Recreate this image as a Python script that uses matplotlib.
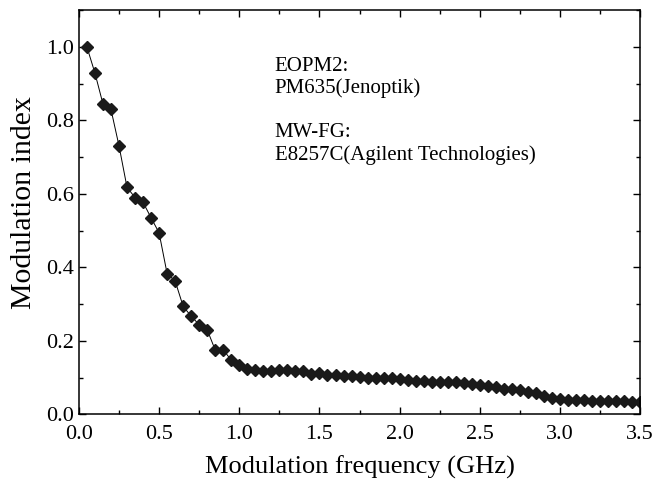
import matplotlib
matplotlib.use('Agg')
import matplotlib.pyplot as plt
from matplotlib.ticker import MultipleLocator

# modulation frequency (GHz)
freq = [0.05, 0.10, 0.15, 0.20, 0.25, 0.30, 0.35, 0.40, 0.45, 0.50,
        0.55, 0.60, 0.65, 0.70, 0.75, 0.80, 0.85, 0.90, 0.95, 1.00,
        1.05, 1.10, 1.15, 1.20, 1.25, 1.30, 1.35, 1.40, 1.45, 1.50,
        1.55, 1.60, 1.65, 1.70, 1.75, 1.80, 1.85, 1.90, 1.95, 2.00,
        2.05, 2.10, 2.15, 2.20, 2.25, 2.30, 2.35, 2.40, 2.45, 2.50,
        2.55, 2.60, 2.65, 2.70, 2.75, 2.80, 2.85, 2.90, 2.95, 3.00,
        3.05, 3.10, 3.15, 3.20, 3.25, 3.30, 3.35, 3.40, 3.45, 3.50]

# modulation index
mod_index = [1.000, 0.929, 0.845, 0.830, 0.731, 0.618, 0.590, 0.577, 0.535, 0.494,
             0.383, 0.363, 0.294, 0.267, 0.244, 0.230, 0.175, 0.176, 0.147, 0.135,
             0.124, 0.120, 0.119, 0.119, 0.120, 0.120, 0.119, 0.117, 0.110, 0.113,
             0.108, 0.106, 0.105, 0.104, 0.102, 0.100, 0.099, 0.098, 0.098, 0.095,
             0.093, 0.091, 0.090, 0.089, 0.088, 0.088, 0.087, 0.086, 0.083, 0.080,
             0.077, 0.073, 0.070, 0.068, 0.065, 0.062, 0.057, 0.050, 0.045, 0.042,
             0.040, 0.039, 0.038, 0.037, 0.036, 0.036, 0.035, 0.035, 0.034, 0.033]

plt.rcParams['font.family'] = ['Liberation Serif', 'DejaVu Serif']

fig = plt.figure(figsize=(6.52, 4.86), dpi=100)
ax = fig.add_axes([0.121, 0.1475, 0.861, 0.8315])

ax.plot(freq, mod_index, color='black', linewidth=0.7, marker='D',
        markersize=6.5, markerfacecolor='#1a1a1a', markeredgecolor='#1a1a1a')

ax.set_xlim(0, 3.5)
ax.set_ylim(0, 1.1)
ax.xaxis.set_major_locator(MultipleLocator(0.5))
ax.xaxis.set_minor_locator(MultipleLocator(0.25))
ax.yaxis.set_minor_locator(MultipleLocator(0.1))
ax.set_yticks([0.0, 0.2, 0.4, 0.6, 0.8, 1.0])
ax.set_xticklabels(['%.1f' % v for v in ax.get_xticks()])
ax.set_yticklabels(['%.1f' % v for v in ax.get_yticks()])

ax.tick_params(which='both', direction='in', top=True, right=True, labelsize=16)
ax.tick_params(axis='x', pad=8)
ax.tick_params(which='major', length=5, width=1)
ax.tick_params(which='minor', length=3, width=1)
for s in ax.spines.values():
    s.set_linewidth(1.1)

ax.set_xlabel('Modulation frequency (GHz)', fontsize=19, labelpad=8)
ax.set_ylabel('Modulation index', fontsize=21.5)
ax.yaxis.set_label_coords(-0.075, 0.525)

ax.text(0.349, 0.885, 'EOPM2:\nPM635(Jenoptik)\n\nMW-FG:\nE8257C(Agilent Technologies)',
        transform=ax.transAxes, fontsize=15, va='top', ha='left', linespacing=1.2)

fig.savefig('out.png', dpi=100)
